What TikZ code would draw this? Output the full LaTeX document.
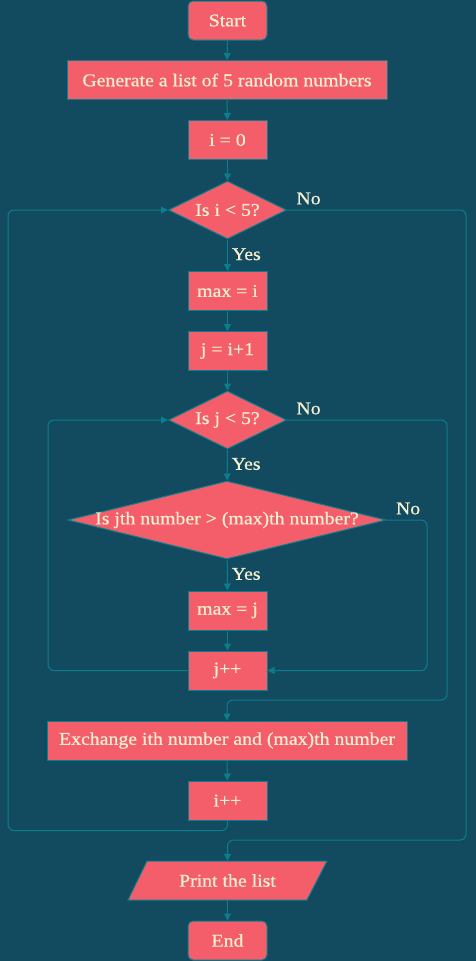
\documentclass[tikz,border=0pt]{standalone}
\usepackage{fontspec}
\setmainfont{Liberation Serif}[FakeStretch=1.1,FakeBold=0.6]
\usetikzlibrary{shapes.geometric,arrows.meta}
\definecolor{bg}{HTML}{124B5F}
\definecolor{nodefill}{HTML}{F45E6B}
\definecolor{edgecol}{HTML}{0C7D8C}
\definecolor{txt}{HTML}{F5F0D2}
\tikzset{
  box/.style={draw=edgecol, fill=nodefill, text=txt, line width=1pt, minimum height=39pt, minimum width=79pt, inner sep=0pt},
  term/.style={box, rounded corners=5pt},
  dec/.style={diamond, draw=edgecol, fill=nodefill, text=txt, inner sep=0pt, line width=1pt, minimum width=118pt, minimum height=58pt},
  conn/.style={draw=edgecol, line width=1pt, -{Triangle[length=7pt,width=7pt]}, rounded corners=6pt},
  lbl/.style={text=txt, inner sep=1pt},
}
\begin{document}
\begin{tikzpicture}[x=1pt,y=-1pt,font=\fontsize{18}{21}\selectfont]
\fill[bg] (0,0) rectangle (476,961);
\useasboundingbox (0,0) rectangle (476,961);

\node[term] (start) at (227.5,20.5) {Start};
\node[box, minimum width=320pt] (gen) at (227,80) {Generate a list of 5 random numbers};
\node[box] (i0) at (227.5,140) {i = 0};
\node[dec] (d1) at (227.5,210) {\makebox[0pt]{Is i < 5?}};
\node[box] (maxi) at (227.5,291) {max = i};
\node[box] (ji) at (227.5,351) {j = i+1};
\node[dec] (d2) at (227.5,420) {\makebox[0pt]{Is j < 5?}};
\node[dec, minimum width=318pt, minimum height=78pt] (d3) at (227,520) {\makebox[0pt]{Is jth number > (max)th number?}};
\node[box] (maxj) at (227.5,610.5) {max = j};
\node[box] (jpp) at (227.5,670.5) {j++};
\node[box, minimum width=360pt] (exch) at (227,740.5) {Exchange ith number and (max)th number};
\node[box] (ipp) at (227.5,800.5) {i++};
\fill[nodefill, draw=edgecol, line width=1pt] (147,861) -- (327,861) -- (307,900) -- (128,900) -- cycle;
\node[text=txt, minimum width=180pt, minimum height=39pt, inner sep=0pt] (print) at (227.5,880.5) {Print the list};
\node[term] (end) at (227.5,940.5) {End};

\draw[conn] (start) -- (gen);
\draw[conn] (gen) -- (i0);
\draw[conn] (i0) -- (d1);
\draw[conn] (d1) -- node[lbl, anchor=west, xshift=3pt, yshift=1pt]{Yes} (maxi);
\draw[conn] (maxi) -- (ji);
\draw[conn] (ji) -- (d2);
\draw[conn] (d2) -- node[lbl, anchor=west, xshift=3pt, yshift=1pt]{Yes} (d3);
\draw[conn] (d3) -- node[lbl, anchor=west, xshift=3pt, yshift=1pt]{Yes} (maxj);
\draw[conn] (maxj) -- (jpp);
\draw[conn] (exch) -- (ipp);
\draw[conn] (print) -- (end);

\draw[conn] (d1.east) node[lbl, anchor=south west, xshift=8pt, yshift=4pt]{No} -| (466,840) -| (print.north);
\draw[conn] (d2.east) node[lbl, anchor=south west, xshift=8pt, yshift=4pt]{No} -| (447,700) -| (exch.north);
\draw[conn] (d3.east) node[lbl, anchor=south west, xshift=8pt, yshift=4pt]{No} -| (427,670.5) -- (jpp.east);
\draw[conn] (jpp.west) -| (48,420) -- (d2.west);
\draw[conn] (ipp.south) -- ++(0,10) -| (8,210) -- (d1.west);
\end{tikzpicture}
\end{document}
